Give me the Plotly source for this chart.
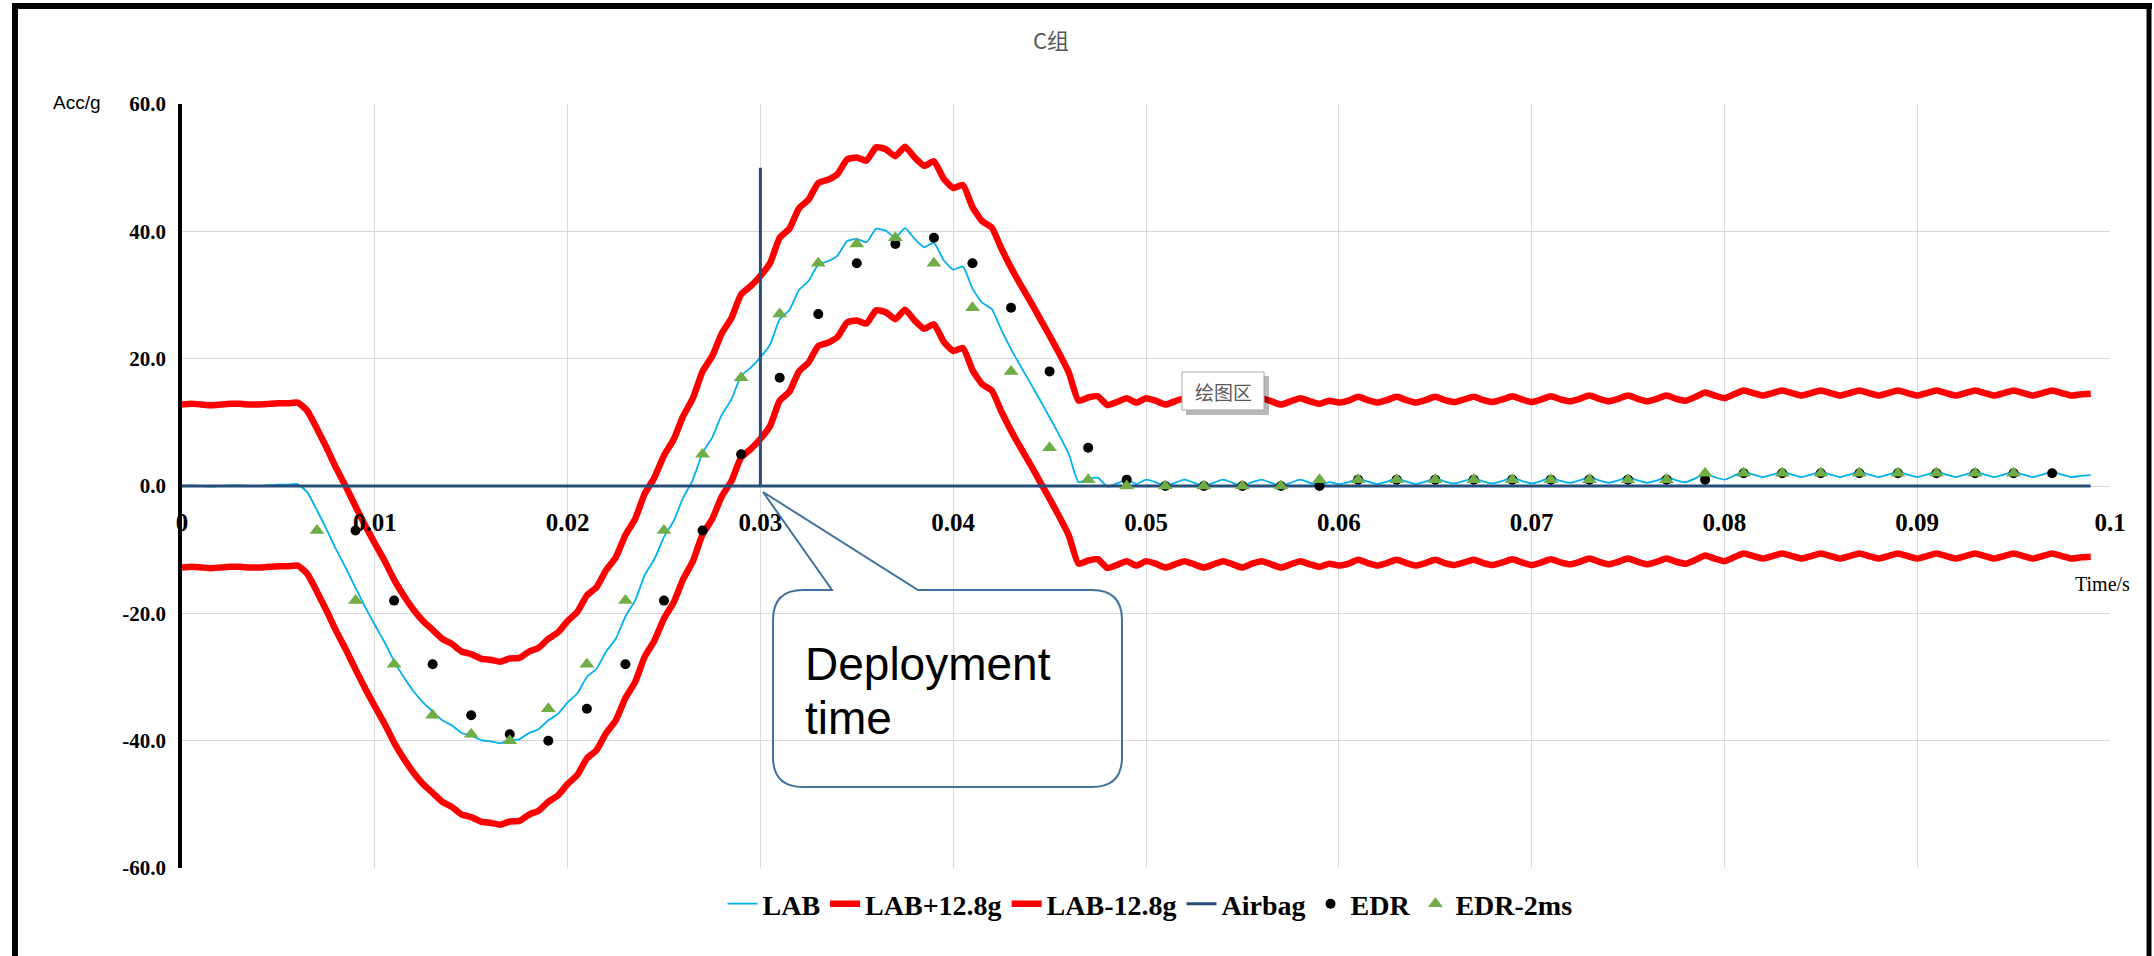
import numpy as np
import plotly.graph_objects as go

# ---- data -----------------------------------------------------------------
# LAB acceleration sampled every 0.5 ms from 0 to 99 ms
TIME_S = np.round(np.arange(199) * 0.0005, 4)
LAB_G = [
    # 0.0 - 6.0 ms
    0.0, 0.1, 0.0, -0.1, 0.0, 0.1, 0.1, 0.0, 0.0, 0.1, 0.2, 0.2, 0.3,
    # 6.5 - 12.0 ms
    -1.0, -3.8, -6.8, -10.0, -12.9, -16.0, -19.0, -21.8, -24.5, -27.5, -30.0, -32.2,
    # 12.5 - 18.0 ms
    -34.0, -35.4, -36.8, -37.6, -38.8, -39.2, -39.9, -40.1, -40.4, -39.9, -39.8, -38.8,
    # 18.5 - 24.0 ms
    -38.2, -36.8, -35.8, -34.0, -32.6, -30.0, -28.7, -26.0, -24.0, -20.5, -18.0, -14.0,
    # 24.5 - 30.0 ms
    -11.5, -8.0, -5.5, -1.8, 1.0, 5.2, 7.6, 11.2, 13.6, 17.3, 18.6, 20.2,
    # 30.5 - 36.0 ms
    22.2, 26.2, 27.6, 30.8, 32.2, 34.8, 35.3, 36.2, 38.5, 38.8, 38.3, 40.4,
    # 36.5 - 42.0 ms
    40.1, 39.0, 40.5, 38.8, 37.5, 38.2, 35.5, 34.0, 34.5, 31.0, 28.8, 27.8,
    # 42.5 - 48.0 ms
    24.5, 21.5, 18.8, 16.2, 13.5, 10.8, 8.0, 5.0, 0.6, 1.1, 1.3, -0.1,
    # 48.5 - 54.0 ms
    0.4, 1.0, 0.3, 1.0, 0.6, 0.0, 0.5, 1.0, 0.5, 0.0, 0.5, 1.0,
    # 54.5 - 60.0 ms
    0.5, 0.0, 0.6, 1.0, 0.5, 0.0, 0.5, 1.0, 0.5, 0.1, 0.6, 0.3,
    # 60.5 - 66.0 ms
    0.6, 1.2, 0.7, 0.3, 0.7, 1.2, 0.7, 0.3, 0.7, 1.2, 0.7, 0.4,
    # 66.5 - 72.0 ms
    0.8, 1.2, 0.7, 0.4, 0.8, 1.3, 0.8, 0.4, 0.8, 1.3, 0.8, 0.5,
    # 72.5 - 78.0 ms
    0.9, 1.4, 0.9, 0.5, 0.9, 1.4, 0.9, 0.5, 0.9, 1.4, 0.9, 0.6,
    # 78.5 - 84.0 ms
    1.2, 1.9, 1.4, 1.0, 1.6, 2.2, 1.8, 1.4, 1.8, 2.2, 1.8, 1.4,
    # 84.5 - 90.0 ms
    1.8, 2.2, 1.8, 1.4, 1.8, 2.2, 1.8, 1.4, 1.8, 2.2, 1.8, 1.4,
    # 90.5 - 96.0 ms
    1.8, 2.2, 1.8, 1.4, 1.8, 2.2, 1.8, 1.4, 1.8, 2.2, 1.8, 1.4,
    # 96.5 - 99.0 ms
    1.8, 2.2, 1.8, 1.4, 1.6, 1.7,
]
BAND_G = 12.8            # tolerance corridor: LAB +/- 12.8 g

# EDR samples every 2 ms
EDR_T = [round(0.009 + 0.002 * i, 3) for i in range(45)]
EDR_G = [
    -7, -18, -28, -36, -39, -40, -35, -28, -18, -7,
    5, 17, 27, 35, 38, 39, 35, 28, 18, 6,
    1, 0, 0, 0, 0, 0,
    1, 1, 1, 1, 1, 1, 1, 1, 1, 1,
    2, 2, 2, 2, 2, 2, 2, 2, 2,
]
EDR_SHIFT_S = 0.002      # EDR series moved 2 ms earlier

# airbag deployment marker
AIRBAG_T = [0.0, 0.03, 0.03, 0.03, 0.099]
AIRBAG_G = [0, 0, 50, 0, 0]

X_TICKS = [0, 0.01, 0.02, 0.03, 0.04, 0.05, 0.06, 0.07, 0.08, 0.09, 0.1]
X_TICK_TEXT = ["0", "0.01", "0.02", "0.03", "0.04", "0.05", "0.06", "0.07", "0.08", "0.09", "0.1"]
Y_TICKS = [-60, -40, -20, 0, 20, 40, 60]
Y_TICK_TEXT = ["-60.0", "-40.0", "-20.0", "0.0", "20.0", "40.0", "60.0"]

# ---- geometry helpers (pixels -> axes / paper) -----------------------------
W, H = 2154, 956
PL, PR, PT, PB = 182, 2110, 104, 868
X0, X1, Y0, Y1 = 0.0, 0.1, -60.0, 60.0


def dx(px):
    return X0 + (px - PL) / (PR - PL) * (X1 - X0)


def dy(py):
    return Y1 - (py - PT) / (PB - PT) * (Y1 - Y0)


def ppx(px):
    return (px - PL) / (PR - PL)


def ppy(py):
    return (PB - py) / (PB - PT)


lab = np.array(LAB_G)
serif = "Liberation Serif"

fig = go.Figure()
fig.add_trace(go.Scatter(x=TIME_S, y=lab, name="LAB", mode="lines",
                         line=dict(color="#00B0F0", width=1.8, shape="spline", smoothing=0.5)))
fig.add_trace(go.Scatter(x=TIME_S, y=lab + BAND_G, name="LAB+12.8g", mode="lines",
                         line=dict(color="#FF0000", width=6.5, shape="spline", smoothing=0.5)))
fig.add_trace(go.Scatter(x=TIME_S, y=lab - BAND_G, name="LAB-12.8g", mode="lines",
                         line=dict(color="#FF0000", width=6.5, shape="spline", smoothing=0.5)))
fig.add_trace(go.Scatter(x=AIRBAG_T, y=AIRBAG_G, name="Airbag", mode="lines",
                         line=dict(color="#264E78", width=3)))
fig.add_trace(go.Scatter(x=EDR_T, y=EDR_G, name="EDR", mode="markers",
                         marker=dict(symbol="circle", size=10, color="#000000")))
fig.add_trace(go.Scatter(x=[round(t - EDR_SHIFT_S, 3) for t in EDR_T], y=EDR_G, name="EDR-2ms",
                         mode="markers",
                         marker=dict(symbol="triangle-up", size=13, color="#70AD47")))

# callout box with pointer towards the deployment instant
L, R, T, B, r = 773, 1122, 590, 787, 30
pts = [("M", L + r, T), ("L", 832, T), ("L", 763, 492), ("L", 918, T), ("L", R - r, T),
       ("Q", R, T, R, T + r), ("L", R, B - r), ("Q", R, B, R - r, B), ("L", L + r, B),
       ("Q", L, B, L, B - r), ("L", L, T + r), ("Q", L, T, L + r, T)]
path = ""
for p in pts:
    cmd, coords = p[0], p[1:]
    parts = []
    for i in range(0, len(coords), 2):
        parts.append(f"{dx(coords[i]):.6f},{dy(coords[i + 1]):.4f}")
    path += cmd + " ".join(parts) + " "
path += "Z"

shapes = [
    dict(type="path", xref="x", yref="y", path=path, line=dict(color="#41719C", width=2),
         fillcolor="rgba(0,0,0,0)", layer="above"),
    # tooltip shadow + box
    dict(type="rect", xref="x", yref="y", x0=dx(1186), x1=dx(1269), y0=dy(376), y1=dy(415),
         line=dict(width=0), fillcolor="rgba(0,0,0,0.28)", layer="above"),
    dict(type="rect", xref="x", yref="y", x0=dx(1182), x1=dx(1264), y0=dy(372), y1=dy(410),
         line=dict(color="#A6A6A6", width=1), fillcolor="#FFFFFF", layer="above"),
    # outer frame
    dict(type="line", xref="paper", yref="paper", x0=ppx(15), x1=ppx(15), y0=ppy(3), y1=ppy(960),
         line=dict(color="#000000", width=6)),
    dict(type="line", xref="paper", yref="paper", x0=ppx(12), x1=ppx(2152), y0=ppy(6), y1=ppy(6),
         line=dict(color="#000000", width=6)),
    dict(type="line", xref="paper", yref="paper", x0=ppx(2149), x1=ppx(2149), y0=ppy(3), y1=ppy(960),
         line=dict(color="#000000", width=5)),
]

annotations = [
    dict(text="Deployment", xref="x", yref="y", x=dx(803), y=dy(664), xanchor="left", yanchor="middle",
         showarrow=False, font=dict(family="Liberation Sans", size=46, color="#000000")),
    dict(text="time", xref="x", yref="y", x=dx(803), y=dy(718), xanchor="left", yanchor="middle",
         showarrow=False, font=dict(family="Liberation Sans", size=46, color="#000000")),
    dict(text="绘图区", xref="x", yref="y", x=dx(1223), y=dy(391), xanchor="center", yanchor="middle",
         showarrow=False, font=dict(family="Noto Sans CJK SC", size=19, color="#595959")),
    dict(text="Acc/g", xref="paper", yref="paper", x=ppx(77), y=ppy(103), xanchor="center",
         yanchor="middle", showarrow=False, font=dict(family="Liberation Sans", size=19, color="#000000")),
    dict(text="Time/s", xref="paper", yref="paper", x=ppx(2102), y=ppy(584), xanchor="center",
         yanchor="middle", showarrow=False, font=dict(family=serif, size=20, color="#000000")),
]

fig.update_layout(
    width=W, height=H,
    margin=dict(l=PL, r=W - PR, t=PT, b=H - PB, autoexpand=False),
    paper_bgcolor="#FFFFFF", plot_bgcolor="#FFFFFF",
    font=dict(family=serif, color="#000000"),
    title=dict(text="C组", xref="container", yref="container", x=1051 / W, y=1 - 41 / H,
               xanchor="center", yanchor="middle",
               font=dict(family="Noto Sans CJK SC", size=22, color="#595959")),
    xaxis=dict(range=[X0, X1], tickvals=X_TICKS, ticktext=X_TICK_TEXT, anchor="free", position=0.5,
               showline=False, zeroline=False, showgrid=True, gridcolor="#D9D9D9", gridwidth=1,
               ticks="outside", ticklen=0, ticklabelstandoff=14,
               tickfont=dict(family=serif, size=25, weight="bold", color="#000000")),
    yaxis=dict(range=[Y0, Y1], tickvals=Y_TICKS, ticktext=Y_TICK_TEXT, showline=True,
               linecolor="#000000", linewidth=3.5, zeroline=False, showgrid=True,
               gridcolor="#D9D9D9", gridwidth=1, ticks="outside", ticklen=0, ticklabelstandoff=8,
               tickfont=dict(family=serif, size=21, weight="bold", color="#000000")),
    legend=dict(orientation="h", xref="container", yref="container", x=1150 / W, y=1 - 904 / H,
                xanchor="center", yanchor="middle", itemwidth=30,
                font=dict(family=serif, size=28, weight="bold", color="#000000"),
                bgcolor="rgba(0,0,0,0)"),
    shapes=shapes,
    annotations=annotations,
    showlegend=True,
)

fig.write_html("out.html")
